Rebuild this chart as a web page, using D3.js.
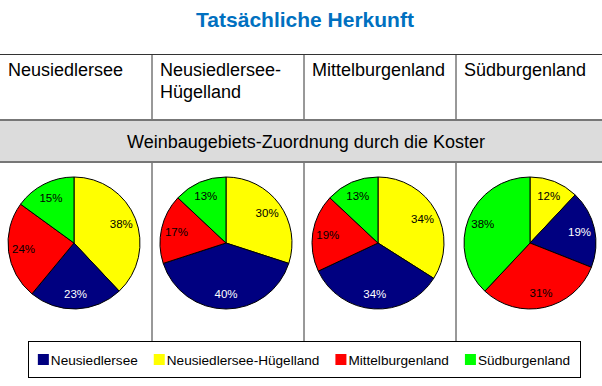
<!DOCTYPE html>
<html lang="de">
<head>
<meta charset="UTF-8">
<title>Tatsächliche Herkunft</title>
<script src="https://d3js.org/d3.v7.min.js"></script>
<style>
  body { margin: 0; background: #fff; }
  svg { display: block; font-family: Arial, "Liberation Sans", sans-serif; }
</style>
</head>
<body>
<svg id="chart" width="602" height="386"></svg>
<script>
// columns = actual origin (tatsächliche Herkunft)
const columns = ["Neusiedlersee", "Neusiedlersee-Hügelland", "Mittelburgenland", "Südburgenland"];
const columnLines = [["Neusiedlersee"], ["Neusiedlersee-", "Hügelland"], ["Mittelburgenland"], ["Südburgenland"]];

// assigned region by the tasters, in legend order
const regions = ["Neusiedlersee", "Neusiedlersee-Hügelland", "Mittelburgenland", "Südburgenland"];
const regionColors = ["#000080", "#ffff00", "#ff0000", "#00ff00"];

// percent per column, same order as regions
const shareNeusiedlersee = [23, 40, 34, 19];
const shareHuegelland   = [38, 30, 34, 12];
const shareMittel       = [24, 17, 19, 31];
const shareSued         = [15, 13, 13, 38];

// slices start at 12 o'clock with this region order (clockwise)
const sliceOrder = [1, 0, 2, 3];

const svg = d3.select("#chart");
const W = 602;

const x = d3.scaleBand().domain(columns).range([0, 608]);

// title
svg.append("text")
  .attr("x", 305).attr("y", 27)
  .attr("text-anchor", "middle")
  .attr("font-size", 21).attr("font-weight", "bold")
  .attr("fill", "#0070c0")
  .text("Tatsächliche Herkunft");

// vertical grid lines between columns
svg.selectAll(".vline")
  .data(columns.slice(1))
  .enter().append("line")
  .attr("x1", d => x(d)).attr("x2", d => x(d))
  .attr("y1", 54).attr("y2", 341)
  .attr("stroke", "#333").attr("stroke-width", 1);

// header line
svg.append("line")
  .attr("x1", 0).attr("x2", W).attr("y1", 54.5).attr("y2", 54.5)
  .attr("stroke", "#333").attr("stroke-width", 1);

// column headers
columns.forEach((c, i) => {
  const t = svg.append("text")
    .attr("x", x(c) + 8).attr("y", 76)
    .attr("font-size", 18).attr("fill", "#000");
  columnLines[i].forEach((line, j) => {
    t.append("tspan").attr("x", x(c) + 8).attr("dy", j === 0 ? 0 : 22).text(line);
  });
});

// gray band
svg.append("rect")
  .attr("x", 0).attr("y", 120).attr("width", W).attr("height", 42)
  .attr("fill", "#dcdcdc");
svg.append("line")
  .attr("x1", 0).attr("x2", W).attr("y1", 120).attr("y2", 120)
  .attr("stroke", "#777").attr("stroke-width", 2);
svg.append("line")
  .attr("x1", 0).attr("x2", W).attr("y1", 162).attr("y2", 162)
  .attr("stroke", "#777").attr("stroke-width", 2);
svg.append("text")
  .attr("x", 306).attr("y", 148)
  .attr("text-anchor", "middle")
  .attr("font-size", 18).attr("fill", "#000")
  .text("Weinbaugebiets-Zuordnung durch die Koster");

// pies
const shares = [shareNeusiedlersee, shareHuegelland, shareMittel, shareSued];
const r = 66;
const pie = d3.pie().sort(null).value(d => d.value);
const arc = d3.arc().innerRadius(0).outerRadius(r);
const labelArc = d3.arc().innerRadius(r * 0.77).outerRadius(r * 0.77);

columns.forEach((c, ci) => {
  const data = sliceOrder.map(k => ({ region: k, value: shares[k][ci] }));
  const g = svg.append("g")
    .attr("transform", `translate(${x(c) + x.bandwidth() / 2 - 2},243)`);
  const arcs = pie(data);
  g.selectAll("path")
    .data(arcs)
    .enter().append("path")
    .attr("d", arc)
    .attr("fill", d => regionColors[d.data.region])
    .attr("stroke", "#000").attr("stroke-width", 1);
  g.selectAll("text")
    .data(arcs)
    .enter().append("text")
    .attr("transform", d => `translate(${labelArc.centroid(d)})`)
    .attr("text-anchor", "middle")
    .attr("dy", "0.35em")
    .attr("font-size", 11.5)
    .attr("fill", d => d.data.region === 0 ? "#fff" : "#000")
    .text(d => d.data.value + "%");
});

// legend
svg.append("rect")
  .attr("x", 28.5).attr("y", 341.5).attr("width", 552).attr("height", 36)
  .attr("fill", "#fff").attr("stroke", "#000").attr("stroke-width", 1);

const legend = svg.append("g");
let lx = 0;
regions.forEach((name, i) => {
  const item = legend.append("g").attr("transform", `translate(${lx},0)`);
  item.append("rect")
    .attr("x", 0).attr("y", 354).attr("width", 11).attr("height", 11)
    .attr("fill", regionColors[i]);
  const t = item.append("text")
    .attr("x", 13).attr("y", 364.5)
    .attr("font-size", 13.6).attr("fill", "#000")
    .text(name);
  lx += 13 + t.node().getComputedTextLength() + 16;
});
const legendWidth = lx - 16;
legend.attr("transform", `translate(${304 - legendWidth / 2},0)`);
</script>
</body>
</html>
